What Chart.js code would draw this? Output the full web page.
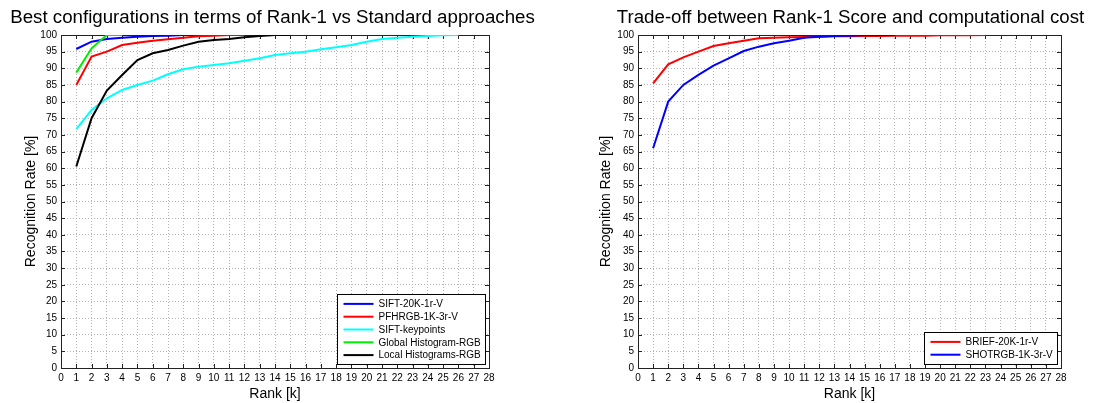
<!DOCTYPE html>
<html>
<head>
<meta charset="utf-8">
<script src="https://cdn.jsdelivr.net/npm/chart.js@4.4.1/dist/chart.umd.min.js"></script>
<style>
  html, body { margin: 0; padding: 0; background: #fff; }
  .panel { position: absolute; top: 0; height: 403px; }
</style>
</head>
<body>
<div class="panel" style="left:0;width:600px"><canvas id="leftChart" width="600" height="403"></canvas></div>
<div class="panel" style="left:548px;width:548px"><canvas id="rightChart" width="548" height="403"></canvas></div>
<script>
// rank axis, shared by both panels
const ranks = [1, 2, 3, 4, 5, 6, 7, 8, 9, 10, 11, 12, 13, 14, 15, 16, 17, 18, 19, 20, 21, 22, 23, 24, 25, 26, 27, 28];
const xTicks = [0, 1, 2, 3, 4, 5, 6, 7, 8, 9, 10, 11, 12, 13, 14, 15, 16, 17, 18, 19, 20, 21, 22, 23, 24, 25, 26, 27, 28];
const yTicks = [0, 5, 10, 15, 20, 25, 30, 35, 40, 45, 50, 55, 60, 65, 70, 75, 80, 85, 90, 95, 100];

// left panel: best configurations vs standard approaches
const siftBest = [95.8, 98, 98.8, 99.2, 99.5, 99.7, 99.8, 100, 100, 100, 100, 100];
const pfhrgbBest = [85, 93.5, 95, 97, 97.7, 98.3, 98.7, 99.2, 99.6, 99.8, 100, 100];
const siftKeypoints = [71.7, 77.5, 81, 83.5, 85, 86.3, 88.2, 89.7, 90.5, 91, 91.5, 92.3, 93, 94, 94.5,
  95, 95.7, 96.3, 97, 98, 98.8, 99.2, 99.5, 99.7, 99.9, 100];
const globalHist = [88.7, 96, 100, 100];
const localHist = [60.5, 75, 83.3, 88, 92.5, 94.5, 95.5, 96.8, 98, 98.5, 98.8, 99.3, 99.7, 100, 100];

// right panel: rank-1 score vs computational cost
const brief = [85.5, 91.2, 93.3, 95, 96.7, 97.5, 98.3, 99, 99.2, 99.3, 99.4, 99.5, 99.6, 99.6, 99.7,
  99.7, 99.8, 99.8, 99.8, 99.9, 99.9, 99.9, 100];
const shotrgb = [66, 80, 85, 88, 90.8, 93, 95.2, 96.5, 97.5, 98.3, 99.2, 99.5, 99.7, 99.8, 100, 100, 100];

const FONT = "'Liberation Sans', Arial, sans-serif";

function points(values) {
  return values.map((v, i) => ({ x: ranks[i], y: v }));
}

function series(label, color, values, order) {
  return {
    label,
    data: points(values),
    borderColor: color,
    backgroundColor: color,
    borderWidth: 2,
    pointRadius: 0,
    tension: 0,
    order,
  };
}

function decorPlugin(opts) {
  return {
    id: "decor",
    beforeDatasetsDraw(chart) {
      const { ctx, chartArea: a, scales: { x, y } } = chart;
      ctx.save();
      ctx.strokeStyle = "#222";
      ctx.lineWidth = 1;
      ctx.beginPath();
      xTicks.forEach((v) => {
        const px = Math.round(x.getPixelForValue(v)) + 0.5;
        ctx.moveTo(px, a.bottom); ctx.lineTo(px, a.bottom - 4);
        ctx.moveTo(px, a.top); ctx.lineTo(px, a.top + 4);
      });
      yTicks.forEach((v) => {
        const py = Math.round(y.getPixelForValue(v)) + 0.5;
        ctx.moveTo(a.left, py); ctx.lineTo(a.left + 4, py);
        ctx.moveTo(a.right, py); ctx.lineTo(a.right - 4, py);
      });
      ctx.stroke();
      ctx.strokeRect(Math.round(a.left) + 0.5, Math.round(a.top) + 0.5,
        Math.round(a.right - a.left), Math.round(a.bottom - a.top));
      ctx.restore();
    },
    afterDraw(chart) {
      const { ctx, chartArea: a } = chart;
      const cx = (a.left + a.right) / 2;
      ctx.save();
      ctx.fillStyle = "#000";
      ctx.textAlign = "center";
      ctx.textBaseline = "middle";
      ctx.font = `18.7px ${FONT}`;
      ctx.fillText(opts.title, cx + opts.titleShift, 18);
      ctx.font = `14px ${FONT}`;
      ctx.fillText("Rank [k]", cx, 394);
      ctx.save();
      ctx.translate(opts.yTitleX, (a.top + a.bottom) / 2);
      ctx.rotate(-Math.PI / 2);
      ctx.fillText("Recognition Rate [%]", 0, 0);
      ctx.restore();

      // legend box in the lower right corner of the plot
      const sets = chart.data.datasets;
      ctx.font = `10px ${FONT}`;
      const textW = Math.max(...sets.map((d) => ctx.measureText(d.label).width));
      const rowH = 12.8;
      const w = Math.round(6 + 30 + 5 + textW + 5);
      const h = Math.round(sets.length * rowH + 6);
      const left = Math.round(a.right - 4 - w) + 0.5;
      const top = Math.round(a.bottom - 4 - h) + 0.5;
      ctx.fillStyle = "#fff";
      ctx.fillRect(left, top, w, h);
      ctx.strokeStyle = "#000";
      ctx.lineWidth = 1;
      ctx.strokeRect(left, top, w, h);
      ctx.textAlign = "left";
      sets.forEach((d, i) => {
        const ry = top + 3 + rowH * (i + 0.5);
        ctx.strokeStyle = d.borderColor;
        ctx.lineWidth = 2;
        ctx.beginPath();
        ctx.moveTo(left + 6, ry);
        ctx.lineTo(left + 36, ry);
        ctx.stroke();
        ctx.fillStyle = "#000";
        ctx.fillText(d.label, left + 41, ry + 0.5);
      });
      ctx.restore();
    },
  };
}

function buildChart(canvasId, datasets, opts) {
  const ctx = document.getElementById(canvasId);
  return new Chart(ctx, {
    type: "line",
    data: { datasets },
    options: {
      responsive: false,
      animation: false,
      devicePixelRatio: 1,
      layout: { padding: { left: opts.padLeft, right: opts.padRight, top: 35, bottom: 0 } },
      plugins: { legend: { display: false }, title: { display: false }, tooltip: { enabled: false } },
      scales: {
        x: {
          type: "linear",
          min: 0,
          max: 28,
          afterBuildTicks: (scale) => { scale.ticks = xTicks.map((v) => ({ value: v })); },
          afterFit: (scale) => { scale.height = 35; },
          ticks: { color: "#000", font: { family: FONT, size: 10 }, padding: 4, maxRotation: 0, autoSkip: false },
          grid: { color: "#b4b4b4", lineWidth: 1, drawTicks: false },
          border: { display: false, dash: [1, 2] },
        },
        y: {
          min: 0,
          max: 100,
          afterBuildTicks: (scale) => { scale.ticks = yTicks.map((v) => ({ value: v })); },
          afterFit: (scale) => { scale.width = opts.yWidth; },
          ticks: { color: "#000", font: { family: FONT, size: 10 }, padding: 4, autoSkip: false },
          grid: { color: "#b4b4b4", lineWidth: 1, drawTicks: false },
          border: { display: false, dash: [1, 2] },
        },
      },
    },
    plugins: [decorPlugin(opts)],
  });
}

buildChart("leftChart", [
  series("SIFT-20K-1r-V", "#0000ff", siftBest, 5),
  series("PFHRGB-1K-3r-V", "#ff0000", pfhrgbBest, 4),
  series("SIFT-keypoints", "#00ffff", siftKeypoints, 3),
  series("Global Histogram-RGB", "#00ee00", globalHist, 2),
  series("Local Histograms-RGB", "#000000", localHist, 1),
], {
  title: "Best configurations in terms of Rank-1 vs Standard approaches",
  titleShift: -2.5,
  padLeft: 0,
  padRight: 111,
  yWidth: 61,
  yTitleX: 31,
});

buildChart("rightChart", [
  series("BRIEF-20K-1r-V", "#ff0000", brief, 2),
  series("SHOTRGB-1K-3r-V", "#0000ff", shotrgb, 1),
], {
  title: "Trade-off between Rank-1 Score and computational cost",
  titleShift: 1,
  padLeft: 0,
  padRight: 35,
  yWidth: 90,
  yTitleX: 58,
});
</script>
</body>
</html>
